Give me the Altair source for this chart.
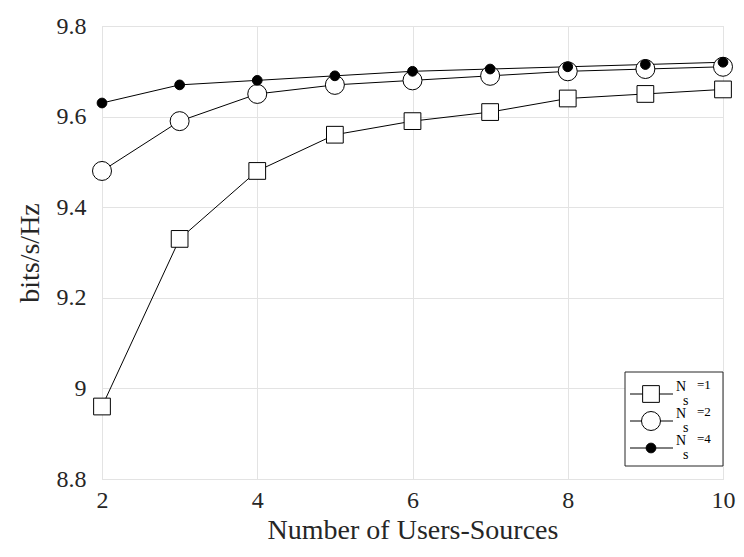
import altair as alt
import pandas as pd

users = [2, 3, 4, 5, 6, 7, 8, 9, 10]
ns1 = [8.96, 9.33, 9.48, 9.56, 9.59, 9.61, 9.64, 9.65, 9.66]
ns2 = [9.48, 9.59, 9.65, 9.67, 9.68, 9.69, 9.70, 9.705, 9.71]
ns4 = [9.63, 9.67, 9.68, 9.69, 9.70, 9.705, 9.71, 9.715, 9.72]
series_names = ["Ns=1", "Ns=2", "Ns=4"]
legend_values = ["=1", "=2", "=4"]
x_ticks = [2, 4, 6, 8, 10]
y_ticks = [8.8, 9.0, 9.2, 9.4, 9.6, 9.8]

rows = []
for name, vals in zip(series_names, [ns1, ns2, ns4]):
    for u, v in zip(users, vals):
        rows.append({"users": u, "rate": v, "series": name})
df = pd.DataFrame(rows)

FONT = "Liberation Serif, Times New Roman, serif"
W, H = 621, 453
LBL = 24
TTL = 28

x = alt.X("users:Q", scale=alt.Scale(domain=[2, 10], nice=False),
          axis=alt.Axis(values=x_ticks, title="Number of Users-Sources", ticks=False,
                        domain=False, labelPadding=9, titlePadding=4,
                        labelFontSize=LBL, titleFontSize=TTL, labelFont=FONT, titleFont=FONT,
                        titleFontWeight="normal", labelColor="#262626", titleColor="#262626",
                        gridColor="#e3e3e3", labelFlush=False))
y = alt.Y("rate:Q", scale=alt.Scale(domain=[8.8, 9.8], nice=False, zero=False),
          axis=alt.Axis(values=y_ticks, title="bits/s/Hz", ticks=False, domain=False,
                        labelPadding=16, titlePadding=12,
                        labelExpr="datum.value == 9 ? '9' : format(datum.value, '.1f')",
                        labelFontSize=LBL, titleFontSize=TTL, labelFont=FONT, titleFont=FONT,
                        titleFontWeight="normal", labelColor="#262626", titleColor="#262626",
                        gridColor="#e3e3e3"))

base = alt.Chart(df)
lines = base.mark_line(color="black", strokeWidth=1).encode(x=x, y=y, detail="series:N")
sq = base.transform_filter(alt.datum.series == "Ns=1").mark_point(
    shape="square", size=280, filled=True, fill="white", stroke="black", strokeWidth=1, opacity=1
).encode(x=x, y=y)
ci = base.transform_filter(alt.datum.series == "Ns=2").mark_point(
    shape="circle", size=360, filled=True, fill="white", stroke="black", strokeWidth=1, opacity=1
).encode(x=x, y=y)
dot = base.transform_filter(alt.datum.series == "Ns=4").mark_point(
    shape="circle", size=95, filled=True, fill="black", stroke="black", strokeWidth=1, opacity=1
).encode(x=x, y=y)

one = pd.DataFrame({"a": [0]})
L0 = W - 98  # legend box left edge
leg_layers = [
    alt.Chart(one).mark_rect(fill="white", stroke="#262626", strokeWidth=1).encode(
        x=alt.value(L0), x2=alt.value(W), y=alt.value(346), y2=alt.value(440))
]
item_y = [368, 395, 422]
marker_specs = [
    dict(shape="square", size=280, fill="white"),
    dict(shape="circle", size=360, fill="white"),
    dict(shape="circle", size=95, fill="black"),
]
LF = 14
for iy, spec, val in zip(item_y, marker_specs, legend_values):
    leg_layers.append(alt.Chart(one).mark_rule(color="black", strokeWidth=1).encode(
        x=alt.value(L0 + 5), x2=alt.value(L0 + 48), y=alt.value(iy)))
    leg_layers.append(alt.Chart(one).mark_point(
        shape=spec["shape"], size=spec["size"], filled=True, fill=spec["fill"],
        stroke="black", strokeWidth=1, opacity=1).encode(x=alt.value(L0 + 26), y=alt.value(iy)))
    leg_layers.append(alt.Chart(one).mark_text(text="N", font=FONT, fontSize=LF, align="left",
                                               baseline="middle", color="black").encode(
        x=alt.value(L0 + 51), y=alt.value(iy - 7)))
    leg_layers.append(alt.Chart(one).mark_text(text="s", font=FONT, fontSize=LF, align="left",
                                               baseline="middle", color="black").encode(
        x=alt.value(L0 + 58), y=alt.value(iy + 7)))
    leg_layers.append(alt.Chart(one).mark_text(text=val, font=FONT, fontSize=LF - 1, align="left",
                                               baseline="middle", color="black").encode(
        x=alt.value(L0 + 72), y=alt.value(iy - 9)))

chart = alt.layer(lines, sq, ci, dot, *leg_layers).properties(
    width=W, height=H,
    autosize=alt.AutoSizeParams(type="none"),
    padding={"left": 94, "top": 18, "right": 13, "bottom": 70},
).configure_view(stroke="#262626", strokeWidth=1).configure(background="white")

chart.save("out.html", embed_options={"renderer": "svg", "actions": False})
